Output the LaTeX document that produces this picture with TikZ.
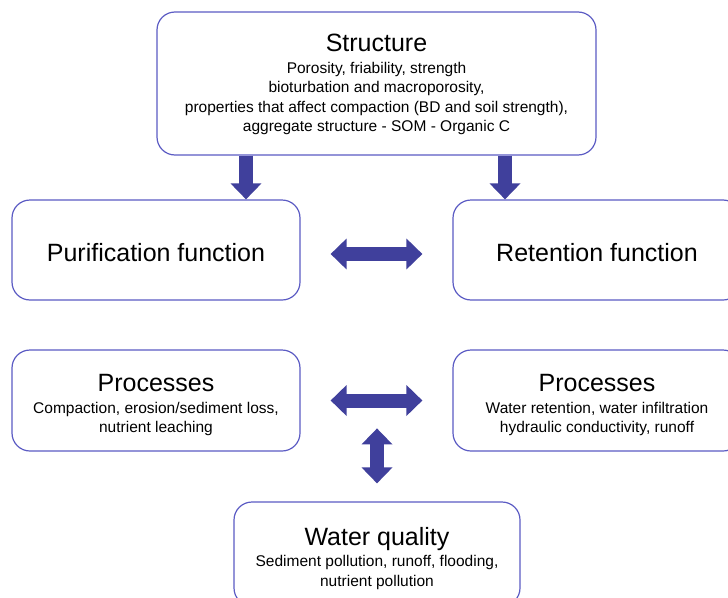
\documentclass[tikz,border=0pt]{standalone}
\usepackage{fontspec}
\setmainfont{Liberation Sans}
\usetikzlibrary{calc,backgrounds,arrows.meta,positioning}
\usepackage{xcolor}
\definecolor{boxblue}{RGB}{92,92,196}
\definecolor{arrowblue}{RGB}{64,64,156}
\newcommand{\boxtitle}[2][0pt]{{\fontsize{25}{30}\selectfont\rule{0pt}{#1}#2}}

\begin{document}
\begin{tikzpicture}[%
    x=1pt, y=-1pt,%
    show background rectangle,%
    tight background,%
    background rectangle/.style={fill=white}%
  ]
  \tikzset{%
    soilbox/.style={draw=boxblue, line width=1.2pt, rounded corners=18pt,%
      align=center, font=\fontsize{15.5}{19.5}\selectfont},%
    blockarrow/.style={arrowblue, line width=14pt,%
      -{Triangle[length=16pt,width=30pt]}},%
    dblockarrow/.style={blockarrow,%
      {Triangle[length=16pt,width=30pt]}-{Triangle[length=16pt,width=30pt]}}%
  }%
  \clip (0,0) rectangle (728,597);%

  %
  % Boxes
  %
  % Structure
  \node[soilbox, minimum width=439pt, minimum height=143pt] (struct) at (376.5,83.5)%
  {\boxtitle[20pt]{Structure}\\[2pt]%
    Porosity, friability, strength\\%
    bioturbation and macroporosity,\\%
    properties that affect compaction (BD and soil strength),\\%
    aggregate structure - SOM - Organic C};%

  % Functions
  \node[soilbox, minimum width=288pt, minimum height=100pt] (purif) at (156,250)%
  {\boxtitle[22.5pt]{Purification function}};%
  \node[soilbox, minimum width=288pt, minimum height=100pt] (retent) at (597,250)%
  {\boxtitle[22.5pt]{Retention function}};%

  % Processes
  \node[soilbox, minimum width=288pt, minimum height=101pt] (procl) at (156,400.5)%
  {\boxtitle[27pt]{Processes}\\[2pt]%
    Compaction, erosion/sediment loss,\\%
    nutrient leaching};%
  \node[soilbox, minimum width=288pt, minimum height=101pt] (procr) at (597,400.5)%
  {\boxtitle[27pt]{Processes}\\[2pt]%
    Water retention, water infiltration\\%
    hydraulic conductivity, runoff};%

  % Water quality
  \node[soilbox, minimum width=286pt, minimum height=104pt] (water) at (377,554)%
  {\boxtitle[27pt]{Water quality}\\[2pt]%
    Sediment pollution, runoff, flooding,\\%
    nutrient pollution};%

  %
  % Arrows
  %
  % Structure to functions
  \foreach \xa/\bx in {246/purif,505/retent} {%
      \coordinate (\bx-x) at (\xa,0);%
      \draw[blockarrow] (\bx-x |- struct.south) -- (\bx-x |- \bx.north);%
    }%

  % Between functions and processes
  \draw[dblockarrow] ([xshift=30pt,yshift=-4pt]purif.east) -- ([xshift=-30pt,yshift=-4pt]retent.west);%
  \draw[dblockarrow] ([xshift=30pt]procl.east) -- ([xshift=-30pt]procr.west);%

  % Processes to water quality
  \draw[dblockarrow] ([yshift=18pt]water.north) coordinate (wq top) -- ++(0,-55);%
\end{tikzpicture}
\end{document}
